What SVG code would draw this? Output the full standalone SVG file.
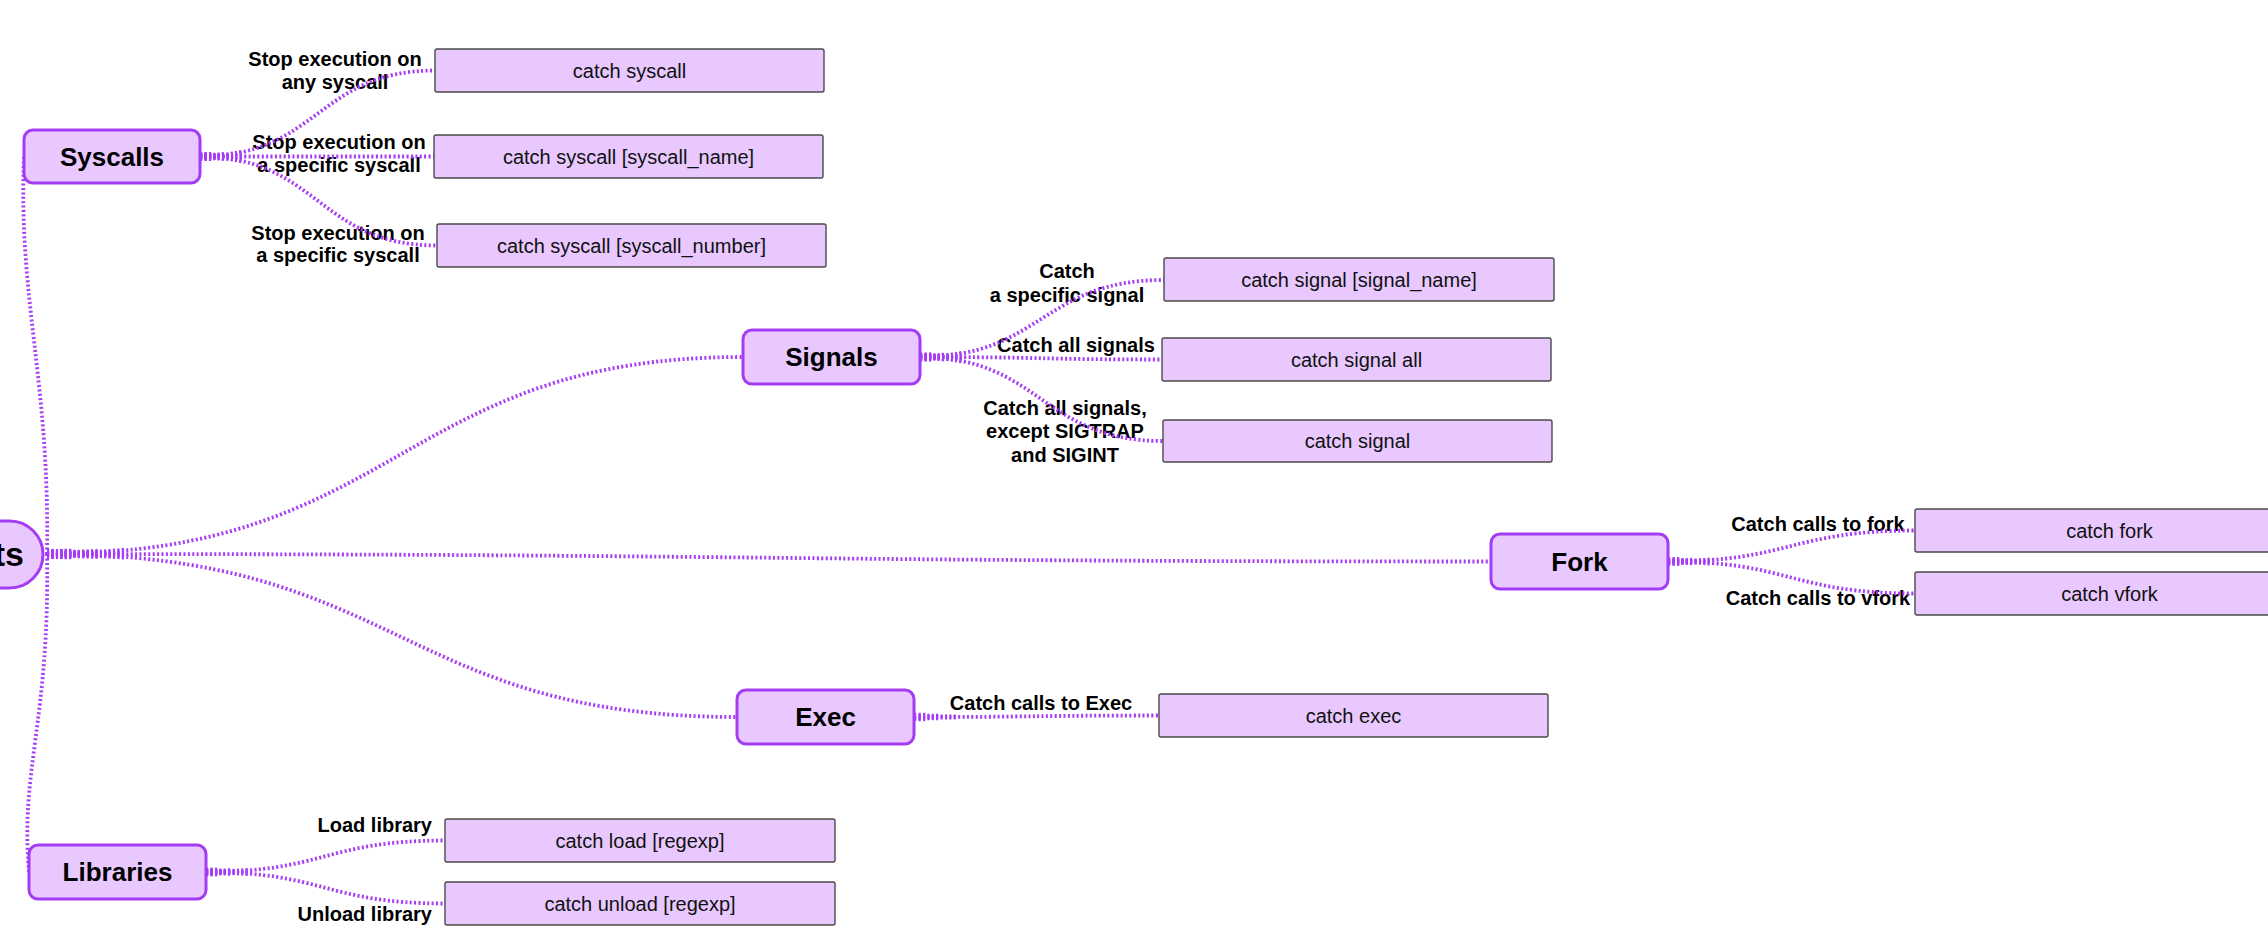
<svg xmlns="http://www.w3.org/2000/svg" xmlns:xlink="http://www.w3.org/1999/xlink" width="2268" height="952" viewBox="0 0 2268 952">
  <style>
    .topic rect { fill: #E8C8FE; stroke: #A33CF2; stroke-width: 3; }
    .topic text { font-family: "Liberation Sans", Arial, sans-serif; font-weight: bold; font-size: 26px; fill: #000; text-anchor: middle; }
    .leaf rect { fill: #E8C8FE; stroke: #4A4A4A; stroke-width: 1.4; }
    .leaf text { font-family: "Liberation Sans", Arial, sans-serif; font-size: 20px; fill: #111; text-anchor: middle; }
    .lbl text { font-family: "Liberation Sans", Arial, sans-serif; font-weight: bold; font-size: 20px; fill: #000; text-anchor: middle; }
    .lbl text.r { text-anchor: end; }
    .wire { fill: none; stroke: #A63AF7; stroke-width: 3.8; stroke-dasharray: 2 2.4; }
    /* tapered start of a branch: wider copies over the first few dashes */
    .c1 { fill: none; stroke: #A63AF7; stroke-width: 8.5; stroke-dasharray: 2 2.4 2 2.4 2 9999; }
    .c2 { fill: none; stroke: #A63AF7; stroke-width: 6.5; stroke-dasharray: 2 2.4 2 2.4 2 2.4 2 2.4 2 2.4 2 9999; }
    .c3 { fill: none; stroke: #A63AF7; stroke-width: 5; stroke-dasharray: 2 2.4 2 2.4 2 2.4 2 2.4 2 2.4 2 2.4 2 2.4 2 2.4 2 2.4 2 9999; }
    .r1 { fill: none; stroke: #A63AF7; stroke-width: 10; stroke-dasharray: 2 2.4 2 2.4 2 2.4 2 2.4 2 2.4 2 9999; }
    .r2 { fill: none; stroke: #A63AF7; stroke-width: 7.5; stroke-dasharray: 2 2.4 2 2.4 2 2.4 2 2.4 2 2.4 2 2.4 2 2.4 2 2.4 2 2.4 2 2.4 2 2.4 2 9999; }
    .r3 { fill: none; stroke: #A63AF7; stroke-width: 5.5; stroke-dasharray: 2 2.4 2 2.4 2 2.4 2 2.4 2 2.4 2 2.4 2 2.4 2 2.4 2 2.4 2 2.4 2 2.4 2 2.4 2 2.4 2 2.4 2 2.4 2 2.4 2 2.4 2 9999; }
  </style>
  <defs>
    <!-- root branches -->
    <path id="w-sys" d="M47,554 C50,380 18,300 24,157"/>
    <path id="w-lib" d="M47,554 C50,720 20,770 29,872"/>
    <path id="w-sig" d="M47,554 C400,554 400,357 743,357"/>
    <path id="w-fork" d="M47,554 C770,554 770,561.5 1491,561.5"/>
    <path id="w-exec" d="M47,554 C400,554 400,717 737,717"/>
    <!-- syscall branches -->
    <path id="w-s1" d="M200,156.5 C318,156.5 318,70.5 435,70.5"/>
    <path id="w-s2" d="M200,156.5 C318,156.5 318,156.5 434,156.5"/>
    <path id="w-s3" d="M200,156.5 C318,156.5 318,245.5 437,245.5"/>
    <!-- signal branches -->
    <path id="w-g1" d="M920,357 C1042,357 1042,280 1164,280"/>
    <path id="w-g2" d="M920,357 C1041,357 1041,359.5 1162,359.5"/>
    <path id="w-g3" d="M920,357 C1041,357 1041,441 1163,441"/>
    <!-- fork branches -->
    <path id="w-f1" d="M1668,561.5 C1791,561.5 1791,530.5 1915,530.5"/>
    <path id="w-f2" d="M1668,561.5 C1791,561.5 1791,593.5 1915,593.5"/>
    <!-- exec branch -->
    <path id="w-e1" d="M914,717 C1036,717 1036,715.5 1159,715.5"/>
    <!-- library branches -->
    <path id="w-l1" d="M206,872 C325,872 325,840.5 445,840.5"/>
    <path id="w-l2" d="M206,872 C325,872 325,903.5 445,903.5"/>
  </defs>

  <rect width="2268" height="952" fill="#FFFFFF"/>

  <!-- branch labels -->
  <g id="labels" class="lbl">
    <text x="335" y="66">Stop execution on</text>
    <text x="335" y="89">any syscall</text>
    <text x="339" y="149">Stop execution on</text>
    <text x="339" y="171.5">a specific syscall</text>
    <text x="338" y="239.5">Stop execution on</text>
    <text x="338" y="262">a specific syscall</text>
    <text x="1067" y="278">Catch</text>
    <text x="1067" y="301.5">a specific signal</text>
    <text x="1076" y="352">Catch all signals</text>
    <text x="1065" y="414.5">Catch all signals,</text>
    <text x="1065" y="438">except SIGTRAP</text>
    <text x="1065" y="461.5">and SIGINT</text>
    <text x="1818" y="531">Catch calls to fork</text>
    <text x="1818" y="605">Catch calls to vfork</text>
    <text x="1041" y="710">Catch calls to Exec</text>
    <text class="r" x="432" y="832">Load library</text>
    <text class="r" x="432" y="921">Unload library</text>
  </g>

  <!-- connectors -->
  <g id="connectors">
    <use xlink:href="#w-sys" class="wire"/>
    <use xlink:href="#w-lib" class="wire"/>
    <use xlink:href="#w-sig" class="wire"/>
    <use xlink:href="#w-sig" class="r3"/>
    <use xlink:href="#w-sig" class="r2"/>
    <use xlink:href="#w-sig" class="r1"/>
    <use xlink:href="#w-fork" class="wire"/>
    <use xlink:href="#w-fork" class="r3"/>
    <use xlink:href="#w-fork" class="r2"/>
    <use xlink:href="#w-fork" class="r1"/>
    <use xlink:href="#w-exec" class="wire"/>
    <use xlink:href="#w-exec" class="r3"/>
    <use xlink:href="#w-exec" class="r2"/>
    <use xlink:href="#w-exec" class="r1"/>

    <use xlink:href="#w-s1" class="wire"/><use xlink:href="#w-s1" class="c3"/><use xlink:href="#w-s1" class="c2"/><use xlink:href="#w-s1" class="c1"/>
    <use xlink:href="#w-s2" class="wire"/><use xlink:href="#w-s2" class="c3"/><use xlink:href="#w-s2" class="c2"/><use xlink:href="#w-s2" class="c1"/>
    <use xlink:href="#w-s3" class="wire"/><use xlink:href="#w-s3" class="c3"/><use xlink:href="#w-s3" class="c2"/><use xlink:href="#w-s3" class="c1"/>

    <use xlink:href="#w-g1" class="wire"/><use xlink:href="#w-g1" class="c3"/><use xlink:href="#w-g1" class="c2"/><use xlink:href="#w-g1" class="c1"/>
    <use xlink:href="#w-g2" class="wire"/><use xlink:href="#w-g2" class="c3"/><use xlink:href="#w-g2" class="c2"/><use xlink:href="#w-g2" class="c1"/>
    <use xlink:href="#w-g3" class="wire"/><use xlink:href="#w-g3" class="c3"/><use xlink:href="#w-g3" class="c2"/><use xlink:href="#w-g3" class="c1"/>

    <use xlink:href="#w-f1" class="wire"/><use xlink:href="#w-f1" class="c3"/><use xlink:href="#w-f1" class="c2"/><use xlink:href="#w-f1" class="c1"/>
    <use xlink:href="#w-f2" class="wire"/><use xlink:href="#w-f2" class="c3"/><use xlink:href="#w-f2" class="c2"/><use xlink:href="#w-f2" class="c1"/>

    <use xlink:href="#w-e1" class="wire"/><use xlink:href="#w-e1" class="c3"/><use xlink:href="#w-e1" class="c2"/><use xlink:href="#w-e1" class="c1"/>

    <use xlink:href="#w-l1" class="wire"/><use xlink:href="#w-l1" class="c3"/><use xlink:href="#w-l1" class="c2"/><use xlink:href="#w-l1" class="c1"/>
    <use xlink:href="#w-l2" class="wire"/><use xlink:href="#w-l2" class="c3"/><use xlink:href="#w-l2" class="c2"/><use xlink:href="#w-l2" class="c1"/>
  </g>

  <!-- root topic (runs past the left edge) -->
  <g id="root" class="topic">
    <rect x="-200" y="521" width="243" height="67" rx="33.5"/>
    <text x="24" y="566" style="text-anchor:end;font-size:34px">ts</text>
  </g>

  <!-- main topics -->
  <g id="syscalls" class="topic">
    <rect x="24" y="130" width="176" height="53" rx="9"/>
    <text x="112" y="165.5">Syscalls</text>
  </g>
  <g id="signals" class="topic">
    <rect x="743" y="330" width="177" height="54" rx="9"/>
    <text x="831.5" y="366">Signals</text>
  </g>
  <g id="fork" class="topic">
    <rect x="1491" y="534" width="177" height="55" rx="9"/>
    <text x="1579.5" y="570.5">Fork</text>
  </g>
  <g id="exec" class="topic">
    <rect x="737" y="690" width="177" height="54" rx="9"/>
    <text x="825.5" y="726">Exec</text>
  </g>
  <g id="libraries" class="topic">
    <rect x="29" y="845" width="177" height="54" rx="9"/>
    <text x="117.5" y="881">Libraries</text>
  </g>

  <!-- commands -->
  <g id="catch-syscall" class="leaf">
    <rect x="435" y="49" width="389" height="43" rx="2"/>
    <text x="629.5" y="77.5">catch syscall</text>
  </g>
  <g id="catch-syscall-name" class="leaf">
    <rect x="434" y="135" width="389" height="43" rx="2"/>
    <text x="628.5" y="163.5">catch syscall [syscall_name]</text>
  </g>
  <g id="catch-syscall-number" class="leaf">
    <rect x="437" y="224" width="389" height="43" rx="2"/>
    <text x="631.5" y="252.5">catch syscall [syscall_number]</text>
  </g>
  <g id="catch-signal-name" class="leaf">
    <rect x="1164" y="258" width="390" height="43" rx="2"/>
    <text x="1359" y="286.5">catch signal [signal_name]</text>
  </g>
  <g id="catch-signal-all" class="leaf">
    <rect x="1162" y="338" width="389" height="43" rx="2"/>
    <text x="1356.5" y="366.5">catch signal all</text>
  </g>
  <g id="catch-signal" class="leaf">
    <rect x="1163" y="420" width="389" height="42" rx="2"/>
    <text x="1357.5" y="448">catch signal</text>
  </g>
  <g id="catch-fork" class="leaf">
    <rect x="1915" y="509" width="389" height="43" rx="2"/>
    <text x="2109.5" y="537.5">catch fork</text>
  </g>
  <g id="catch-vfork" class="leaf">
    <rect x="1915" y="572" width="389" height="43" rx="2"/>
    <text x="2109.5" y="600.5">catch vfork</text>
  </g>
  <g id="catch-exec" class="leaf">
    <rect x="1159" y="694" width="389" height="43" rx="2"/>
    <text x="1353.5" y="722.5">catch exec</text>
  </g>
  <g id="catch-load" class="leaf">
    <rect x="445" y="819" width="390" height="43" rx="2"/>
    <text x="640" y="847.5">catch load [regexp]</text>
  </g>
  <g id="catch-unload" class="leaf">
    <rect x="445" y="882" width="390" height="43" rx="2"/>
    <text x="640" y="910.5">catch unload [regexp]</text>
  </g>
</svg>
